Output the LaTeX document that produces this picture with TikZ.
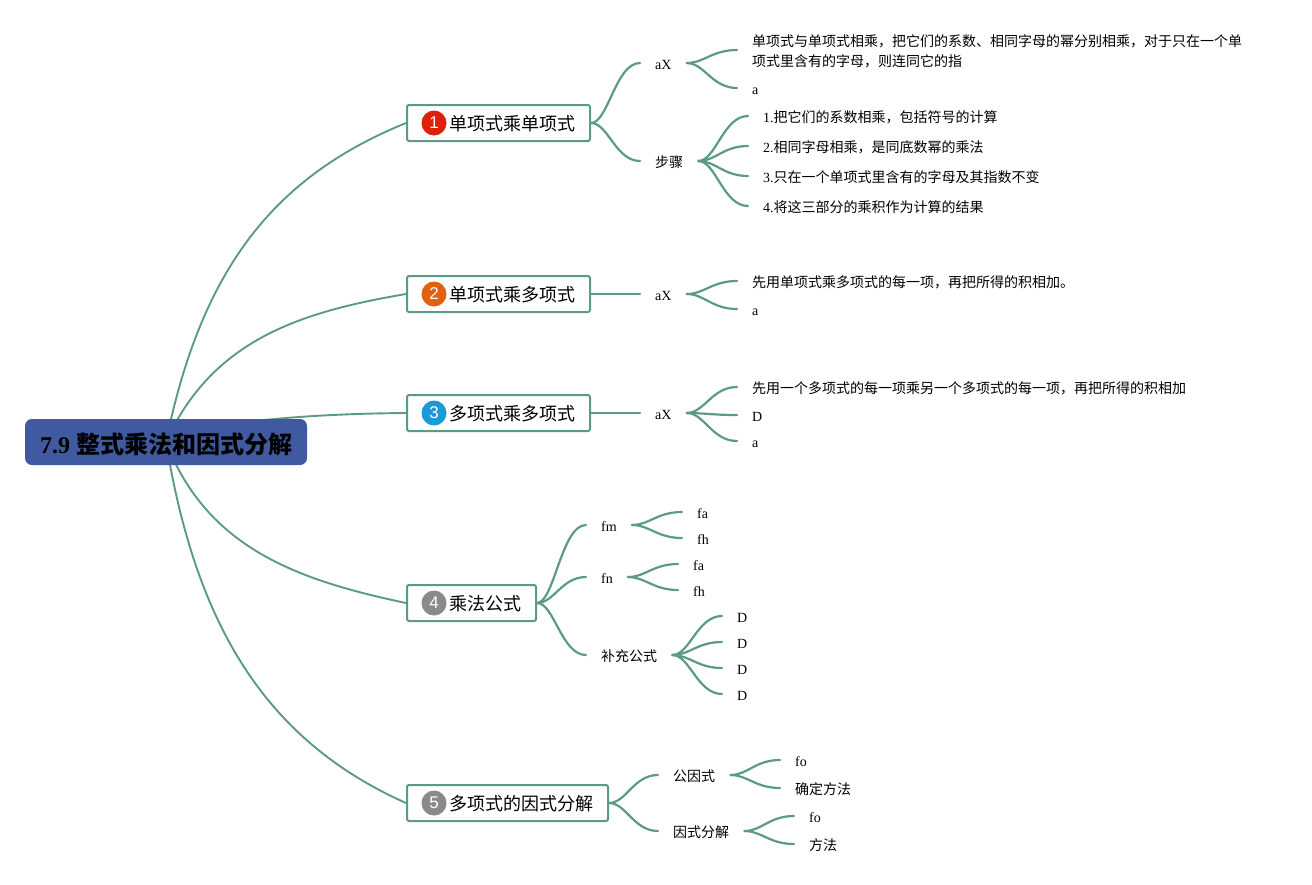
\documentclass[tikz,border=0pt]{standalone}
\usepackage{fontspec}
\setmainfont{Liberation Serif}
\newfontfamily\cjk{Noto Sans CJK SC}
\newfontfamily\lsans{Liberation Sans}
\newcommand\zh[1]{{\cjk #1}}
\usetikzlibrary{calc,backgrounds}
\definecolor{lnkc}{HTML}{5B9A87}
\definecolor{rootc}{HTML}{3F5AA0}
\tikzset{
  x=1pt,y=-1pt,
  lnk/.style={draw=lnkc,line width=2.2pt,line cap=round},
  rlnk/.style={draw=lnkc,line width=1.9pt},
  rootst/.style={fill=rootc,rounded corners=7pt,minimum width=282pt,minimum height=46pt,inner sep=0pt,text height=25pt,text depth=3pt,font=\fontsize{24}{28}\selectfont\bfseries,text=black},
  boxst/.style={draw=lnkc,line width=2pt,fill=white,rounded corners=2pt,anchor=west,inner xsep=15pt,inner ysep=0pt,minimum height=36pt,text height=19pt,text depth=3.4pt,font=\fontsize{18}{22}\selectfont},
  icon/.style={circle,inner sep=0pt,minimum size=25pt,text=white,font=\lsans\fontsize{17}{20}\selectfont},
  leaf/.style={anchor=west,inner xsep=15pt,inner ysep=0pt,text height=16pt,text depth=3pt,font=\fontsize{14}{20}\selectfont},
  multi/.style={anchor=west,inner xsep=15pt,inner ysep=0pt,align=left,font=\fontsize{14}{20}\selectfont},
}
\newcommand\lk[2]{\draw[lnk] (#1.east) .. controls ($(#1.east)!0.35!(#2.west |- #1.east)$) and ($(#1.east |- #2.west)!0.5!(#2.west)$) .. (#2.west);}
\begin{document}
\begin{tikzpicture}
\useasboundingbox (0,0) rectangle (1312,884);
\node[rootst] (root) at (166,442) {7.9 \zh{整式乘法和因式分解}};
% branches
\node[boxst] (b1) at (406,123) {\hspace*{27pt}\zh{单项式乘单项式}};
\node[boxst] (b2) at (406,294) {\hspace*{27pt}\zh{单项式乘多项式}};
\node[boxst] (b3) at (406,413) {\hspace*{27pt}\zh{多项式乘多项式}};
\node[boxst] (b4) at (406,603) {\hspace*{27pt}\zh{乘法公式}};
\node[boxst] (b5) at (406,803) {\hspace*{27pt}\zh{多项式的因式分解}};
\node[icon,fill={rgb,255:red,221;green,32;blue,8}] (i1) at (434,123) {1};
\node[icon,fill={rgb,255:red,224;green,98;blue,15}] (i2) at (434,294) {2};
\node[icon,fill={rgb,255:red,26;green,154;blue,214}] (i3) at (434,413) {3};
\node[icon,fill={rgb,255:red,138;green,138;blue,138}] (i4) at (434,603) {4};
\node[icon,fill={rgb,255:red,138;green,138;blue,138}] (i5) at (434,803) {5};
% branch 1
\node[leaf] (a1) at (640,63) {aX};
\node[leaf] (s1) at (640,161) {\zh{步骤}};
\node[multi] (a1x) at (737,50) {\rule{0pt}{15.3pt}\zh{单项式与单项式相乘，把它们的系数、相同字母的幂分别相乘，对于只在一个单}\\\zh{项式里含有的字母，则连同它的指}};
\node[leaf] (a1y) at (737,88) {a};
\node[leaf] (s11) at (748,116) {1.\zh{把它们的系数相乘，包括符号的计算}};
\node[leaf] (s12) at (748,146) {2.\zh{相同字母相乘，是同底数幂的乘法}};
\node[leaf] (s13) at (748,176) {3.\zh{只在一个单项式里含有的字母及其指数不变}};
\node[leaf] (s14) at (748,206) {4.\zh{将这三部分的乘积作为计算的结果}};
% branch 2
\node[leaf] (a2) at (640,294) {aX};
\node[leaf] (a2x) at (737,281) {\zh{先用单项式乘多项式的每一项，再把所得的积相加。}};
\node[leaf] (a2y) at (737,309) {a};
% branch 3
\node[leaf] (a3) at (640,413) {aX};
\node[leaf] (a3x) at (737,387) {\zh{先用一个多项式的每一项乘另一个多项式的每一项，再把所得的积相加}};
\node[leaf] (a3y) at (737,415) {D};
\node[leaf] (a3z) at (737,441) {a};
% branch 4
\node[leaf] (fm) at (586,525) {fm};
\node[leaf] (fn) at (586,577) {fn};
\node[leaf] (bc) at (586,655) {\zh{补充公式}};
\node[leaf] (fm1) at (682,512) {fa};
\node[leaf] (fm2) at (682,538) {fh};
\node[leaf] (fn1) at (678,564) {fa};
\node[leaf] (fn2) at (678,590) {fh};
\node[leaf] (bc1) at (722,616) {D};
\node[leaf] (bc2) at (722,642) {D};
\node[leaf] (bc3) at (722,668) {D};
\node[leaf] (bc4) at (722,694) {D};
% branch 5
\node[leaf] (gy) at (658,775) {\zh{公因式}};
\node[leaf] (yf) at (658,831) {\zh{因式分解}};
\node[leaf] (gy1) at (780,760) {fo};
\node[leaf] (gy2) at (780,788) {\zh{确定方法}};
\node[leaf] (yf1) at (794,816) {fo};
\node[leaf] (yf2) at (794,844) {\zh{方法}};
\begin{scope}[on background layer]
\draw[rlnk] (root.center) .. controls (202,266) and (276,176) .. (b1.west);
\draw[rlnk] (root.center) .. controls (212,340) and (300,312) .. (b2.west);
\draw[rlnk] (root.center) .. controls (195,425) and (285,414) .. (b3.west);
\draw[rlnk] (root.center) .. controls (207,548) and (297,580) .. (b4.west);
\draw[rlnk] (root.center) .. controls (196,625) and (265,740) .. (b5.west);
\lk{b1}{a1}\lk{b1}{s1}
\lk{a1}{a1x}\lk{a1}{a1y}
\lk{s1}{s11}\lk{s1}{s12}\lk{s1}{s13}\lk{s1}{s14}
\draw[lnk] (b2.east) -- (a2.west);
\lk{a2}{a2x}\lk{a2}{a2y}
\draw[lnk] (b3.east) -- (a3.west);
\lk{a3}{a3x}\lk{a3}{a3y}\lk{a3}{a3z}
\lk{b4}{fm}\lk{b4}{fn}\lk{b4}{bc}
\lk{fm}{fm1}\lk{fm}{fm2}
\lk{fn}{fn1}\lk{fn}{fn2}
\lk{bc}{bc1}\lk{bc}{bc2}\lk{bc}{bc3}\lk{bc}{bc4}
\lk{b5}{gy}\lk{b5}{yf}
\lk{gy}{gy1}\lk{gy}{gy2}
\lk{yf}{yf1}\lk{yf}{yf2}
\end{scope}
\end{tikzpicture}
\end{document}
